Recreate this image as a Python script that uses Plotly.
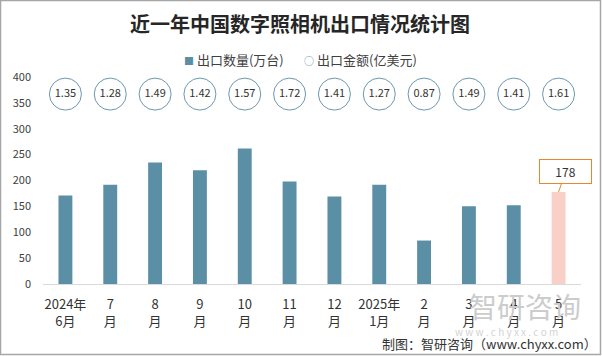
import plotly.graph_objects as go

# ---- data ----
months = ["2024年<br>6月", "7<br>月", "8<br>月", "9<br>月", "10<br>月", "11<br>月",
          "12<br>月", "2025年<br>1月", "2<br>月", "3<br>月", "4<br>月", "5<br>月"]
qty = [171, 192, 235, 220, 262, 198, 169, 192, 84, 150, 152, 178]   # 出口数量(万台)
amount = [1.35, 1.28, 1.49, 1.42, 1.57, 1.72, 1.41, 1.27, 0.87, 1.49, 1.41, 1.61]  # 出口金额(亿美元)
y_ticks = [0, 50, 100, 150, 200, 250, 300, 350, 400]
series_names = ["出口数量(万台)", "出口金额(亿美元)"]

# ---- style / layout constants ----
W, H = 602, 356
L, R, T, B = 43, 21, 77, 72
PW, PH = W - L - R, H - T - B
FONT = "Noto Sans CJK SC"
BAR = "#5b8fa6"
PINK = "#f8d0c8"
ORANGE = "#e8872e"
CIRCLE_C = "#6b98ab"
CIRCLE_ROW = 367  # vertical row (axis units) where the amount bubbles sit


def px_x(px):
    return (px - L) / PW


def px_y(py):
    return (T + PH - py) / PH


bar_colors = [BAR] * (len(qty) - 1) + [PINK]

fig = go.Figure()

# watermark (drawn first, light)
fig.add_annotation(xref="paper", yref="paper", x=px_x(525), y=px_y(306), text="智研咨询",
                   showarrow=False, font=dict(family=FONT, size=28, color="#cccccc"),
                   xanchor="center", yanchor="middle")
fig.add_annotation(xref="paper", yref="paper", x=px_x(506), y=px_y(331),
                   text="w w w . c h y x x . c o m", showarrow=False,
                   font=dict(family=FONT, size=10, color="#d3d3d3"),
                   xanchor="center", yanchor="middle")

fig.add_trace(go.Bar(
    x=months, y=qty, marker=dict(color=bar_colors, line=dict(width=0)),
    width=0.31, name=series_names[0], showlegend=False, hoverinfo="x+y"))
fig.add_trace(go.Scatter(
    x=months, y=[CIRCLE_ROW] * len(amount), mode="markers+text",
    text=[f"{v:.2f}" for v in amount], textposition="middle center",
    textfont=dict(family=FONT, size=11, color="#333333"),
    marker=dict(symbol="circle", size=32, color="rgba(255,255,255,0)",
                line=dict(color=CIRCLE_C, width=1)),
    name=series_names[1], showlegend=False, hoverinfo="text"))

# legend (as text)
legend_text = (f"<span style='color:{BAR};font-size:10px'>■</span> {series_names[0]}"
               f"       <span style='color:{CIRCLE_C};font-size:10px'>○</span> {series_names[1]}")
fig.add_annotation(xref="paper", yref="paper", x=px_x(300), y=px_y(59), text=legend_text,
                   showarrow=False, font=dict(family=FONT, size=13, color="#404040"),
                   xanchor="center", yanchor="middle")

# callout for last bar
fig.add_annotation(
    x=months[-1], y=qty[-1], text=str(qty[-1]), showarrow=True,
    arrowhead=0, arrowwidth=1, arrowcolor=ORANGE, ax=7, ay=-20,
    bordercolor=ORANGE, borderwidth=1, bgcolor="white", width=45, height=17, borderpad=3,
    font=dict(family=FONT, size=12, color="#333333"))

# source
fig.add_annotation(xref="paper", yref="paper", x=px_x(599), y=px_y(343),
                   text="制图：智研咨询（www.chyxx.com）", showarrow=False,
                   font=dict(family=FONT, size=13, color="#333333"),
                   xanchor="right", yanchor="middle")

# border
fig.add_shape(type="rect", xref="paper", yref="paper",
              x0=px_x(0.5), x1=px_x(W - 1.5), y0=px_y(H - 1.5), y1=px_y(0.5),
              line=dict(color="#a6a6a6", width=1.5), layer="below")

fig.update_layout(
    width=W, height=H, margin=dict(l=L, r=R, t=T, b=B, autoexpand=False),
    paper_bgcolor="white", plot_bgcolor="white",
    font=dict(family=FONT, color="#404040"),
    title=dict(text="<b>近一年中国数字照相机出口情况统计图</b>", x=300 / W, xanchor="center",
               y=1 - 25 / H, yanchor="middle",
               font=dict(family=FONT, size=20, color="#262626")),
    showlegend=False,
)
fig.update_xaxes(type="category", range=[-0.5, len(months) - 0.5], showline=True,
                 linecolor="#d9d9d9", linewidth=1, ticks="", showgrid=False,
                 tickfont=dict(family=FONT, size=13, color="#333333"), ticklabelstandoff=8,
                 tickangle=0, fixedrange=True, automargin=False)
fig.update_yaxes(range=[0, 400], tickvals=y_ticks, showgrid=False, zeroline=False,
                 showline=False, ticks="", tickfont=dict(family=FONT, size=11, color="#404040"),
                 ticklabelstandoff=11, fixedrange=True, automargin=False)

fig.write_html("out.html", config={"displayModeBar": False},
               post_script="document.body.style.margin='0';document.body.style.overflow='hidden';")
